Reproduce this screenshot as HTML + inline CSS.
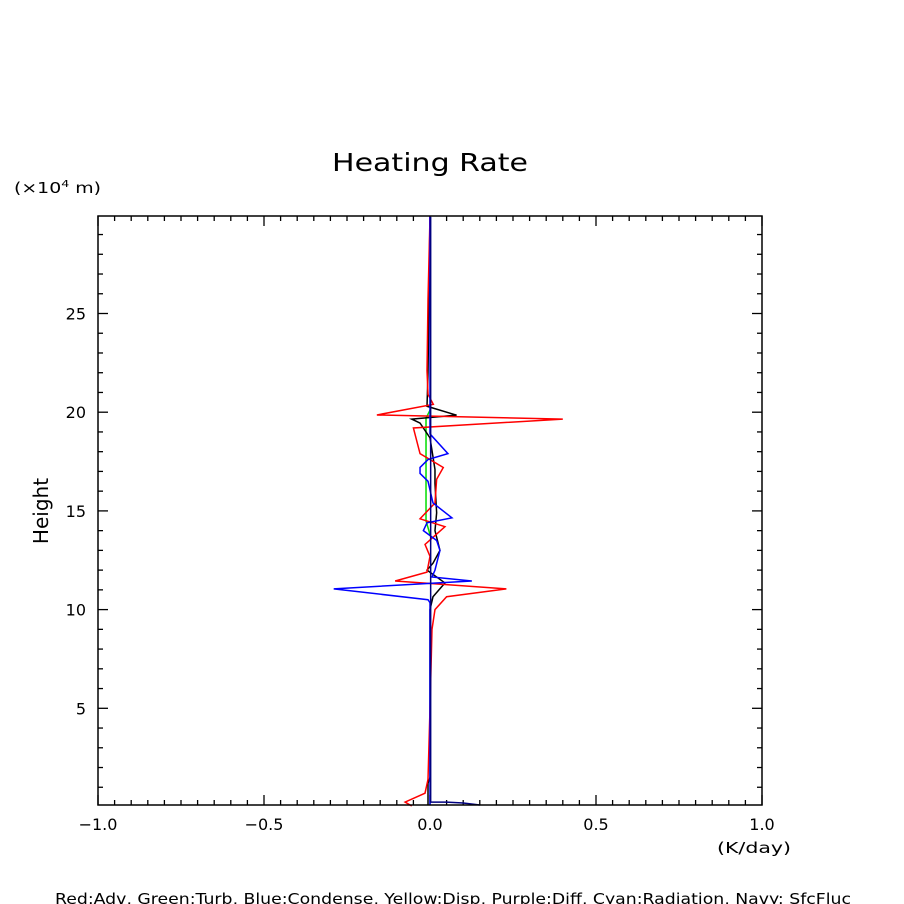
<!DOCTYPE html>
<html><head><meta charset="utf-8"><style>
html,body{margin:0;padding:0;background:#fff;width:904px;height:904px;overflow:hidden}
svg{display:block;font-family:"DejaVu Sans","Liberation Sans",sans-serif}
</style></head><body>
<svg id="chart" width="904" height="904" viewBox="0 0 904 904">
<rect x="0" y="0" width="904" height="904" fill="#fff"/>
<text x="332" y="171" font-size="25" textLength="196" lengthAdjust="spacingAndGlyphs">Heating Rate</text>
<text x="14" y="193" font-size="15" textLength="87" lengthAdjust="spacingAndGlyphs">(×10<tspan font-size="10" dy="-6">4</tspan><tspan dy="6"> m)</tspan></text>
<text x="48" y="511" font-size="20" text-anchor="middle" transform="rotate(-90 48 511)">Height</text>
<text x="717" y="853" font-size="15" textLength="74" lengthAdjust="spacingAndGlyphs">(K/day)</text>
<text x="55" y="904" font-size="15" textLength="796" lengthAdjust="spacingAndGlyphs">Red:Adv, Green:Turb, Blue:Condense, Yellow:Disp, Purple:Diff, Cyan:Radiation, Navy: SfcFluc</text>
<g id="ticks"></g>
<g id="series"></g>
<rect x="98" y="216" width="664" height="589" fill="none" stroke="#000" stroke-width="1.5"/>
</svg>
<script>
const xTicks=[-1.0,-0.5,0.0,0.5,1.0];
const xTickLabels=["−1.0","−0.5","0.0","0.5","1.0"];
const yTicks=[5,10,15,20,25];
const yTickLabels=["5","10","15","20","25"];
const redX=[0,-0.006,-0.009,-0.006,0.01,-0.16,0.40,-0.05,-0.03,0.04,0.02,0.015,-0.03,0.045,-0.015,0,-0.009,-0.105,0.23,0.05,0.015,0.006,0,-0.006,-0.015,-0.075,-0.055];
const redY=[29.9,25.7,22.1,20.9,20.4,19.86,19.65,19.2,17.9,17.2,16.6,15.4,14.6,14.2,13.3,12.7,11.9,11.45,11.05,10.65,10.0,9.0,5,1.4,0.7,0.25,0.05];
const blackX=[0,-0.006,-0.009,0.08,-0.055,-0.03,0,0.015,0.015,0.02,0.015,0.03,0.009,-0.009,0.045,0.009,0,0,-0.006,-0.006];
const blackY=[29.9,22,20.3,19.85,19.65,19.45,18.7,17.1,16.4,14.9,14.0,13.0,12.35,12.0,11.35,10.65,10,1.5,1.2,0.1];
const blueX=[0,0,0.054,-0.006,-0.03,-0.03,-0.006,0.009,0.066,-0.009,-0.02,0.02,0.03,0.015,0.006,0.126,-0.29,-0.006,0,0];
const blueY=[29.9,18.9,17.9,17.6,17.2,16.9,16.5,15.4,14.65,14.4,14.0,13.5,13.0,12.0,11.65,11.45,11.05,10.5,10.35,0.1];
const greenX=[0,-0.012,-0.012,0];
const greenY=[20.1,19.7,14.5,13.8];
const navyX=[0.002,0.002,0.05,0.1,0.15];
const navyY=[29.9,0.25,0.25,0.2,0.1];
const X=v=>430+v*332, Y=h=>807-h*19.74;
const NS="http://www.w3.org/2000/svg";
const tk=document.getElementById('ticks'), sg=document.getElementById('series');
function ln(x1,y1,x2,y2){const l=document.createElementNS(NS,'line');l.setAttribute('x1',x1);l.setAttribute('y1',y1);l.setAttribute('x2',x2);l.setAttribute('y2',y2);l.setAttribute('stroke','#000');l.setAttribute('stroke-width','1.3');tk.appendChild(l);return l;}
for(let i=-20;i<=20;i++){const v=i*0.05,x=X(v),major=i%10===0,len=major?10:5;
 const a=ln(x,805,x,805-len);
 const b=ln(x,216,x,216+len);}
for(let h=1;h<=29;h++){const y=Y(h),major=h%5===0,len=major?10:5;
 const a=ln(98,y,98+len,y);
 const b=ln(762,y,762-len,y);}
xTicks.forEach((v,i)=>{const t=document.createElementNS(NS,'text');t.setAttribute('x',X(v));t.setAttribute('y',830);t.setAttribute('font-size','16');t.setAttribute('text-anchor','middle');t.textContent=xTickLabels[i];
 
 tk.appendChild(t);});
yTicks.forEach((h,i)=>{const t=document.createElementNS(NS,'text');t.setAttribute('x',86);t.setAttribute('y',Y(h)+6);t.setAttribute('font-size','16');t.setAttribute('text-anchor','end');t.textContent=yTickLabels[i];
 
 tk.appendChild(t);});
function series(xs,ys,color,name){const p=document.createElementNS(NS,'polyline');
 p.setAttribute('points',xs.map((v,i)=>X(v)+','+Y(ys[i])).join(' '));
 p.setAttribute('fill','none');p.setAttribute('stroke',color);p.setAttribute('stroke-width','1.5');
 
 sg.appendChild(p);}
series(greenX,greenY,'#00dd00','turb-line');
series(blackX,blackY,'#000000','total-line');
series(redX,redY,'#ff0000','adv-line');
series(blueX,blueY,'#0000ff','condense-line');
series(navyX,navyY,'#000080','sfcfluc-line');
</script>
</body></html>
